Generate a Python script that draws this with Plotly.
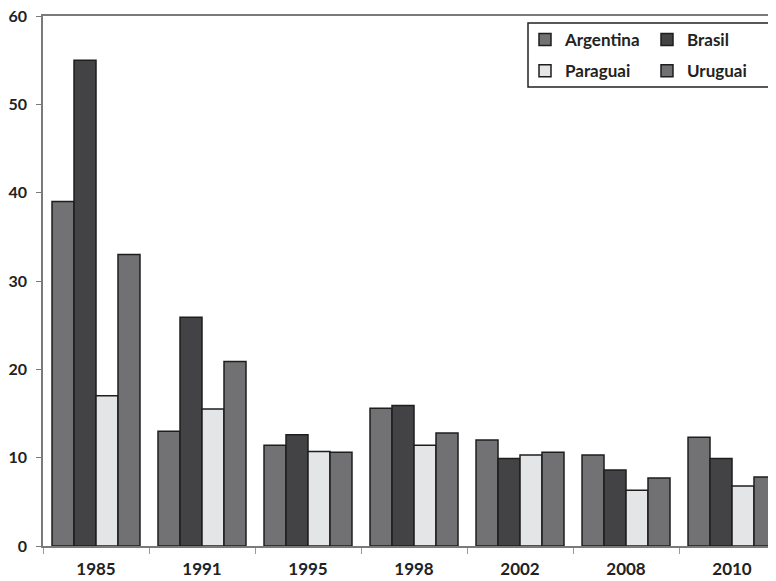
import plotly.graph_objects as go

years = ["1985", "1991", "1995", "1998", "2002", "2008", "2010"]
argentina = [39, 13, 11.4, 15.6, 12.0, 10.3, 12.3]
brasil = [55, 25.9, 12.6, 15.9, 9.9, 8.6, 9.9]
paraguai = [17, 15.5, 10.7, 11.4, 10.3, 6.3, 6.8]
uruguai = [33, 20.9, 10.6, 12.8, 10.6, 7.7, 7.8]

series = [
    ("Argentina", argentina, "#727275", "legend"),
    ("Brasil", brasil, "#434345", "legend2"),
    ("Paraguai", paraguai, "#e4e5e7", "legend"),
    ("Uruguai", uruguai, "#717174", "legend2"),
]

fig = go.Figure()
for name, vals, col, lg in series:
    fig.add_trace(go.Bar(
        x=years, y=vals, name=name, legend=lg, legendgroup=name,
        marker=dict(color=col, line=dict(color="#1e1e1e", width=1.5)),
    ))

font_fam = "Lato, 'Open Sans', sans-serif"
OFF = 8  # page offset of the figure inside the window
L, T, W, H = 43, 16, 733, 530  # plot area in window pixels


def px_x(p):
    return (p - L) / W


def px_y(p):
    return (T + H - p) / H


legend_font = dict(family=font_fam, size=17, color="#222222", weight="bold")
common_leg = dict(
    orientation="v", xanchor="left", yanchor="top",
    borderwidth=0, bgcolor="rgba(0,0,0,0)", font=legend_font,
    itemwidth=30, tracegroupgap=6,
)

fig.update_layout(
    width=776 - OFF, height=581 - OFF,
    margin=dict(l=L - OFF, r=0, t=T - OFF, b=35, autoexpand=False),
    paper_bgcolor="white", plot_bgcolor="white",
    barmode="group", bargap=0.17, bargroupgap=0,
    font=dict(family=font_fam, size=16, color="#222222"),
    legend=dict(x=px_x(525), y=px_y(22), **common_leg),
    legend2=dict(x=px_x(647), y=px_y(22), **common_leg),
    showlegend=True,
    shapes=[dict(
        type="rect", xref="paper", yref="paper",
        x0=px_x(528), x1=px_x(773), y0=px_y(87), y1=px_y(23),
        line=dict(color="#222222", width=1.5), fillcolor="rgba(0,0,0,0)",
        layer="above",
    )],
)
fig.update_xaxes(
    type="category", range=[-0.5, 6.415], automargin=False,
    showline=True, linecolor="#7a7a7a", linewidth=1.5, mirror=True,
    ticks="outside", tickson="boundaries", ticklen=6, tickcolor="#9a9a9a",
    ticklabelstandoff=7,
    tickfont=dict(family=font_fam, size=17, color="#222222", weight="bold"),
    showgrid=False,
)
fig.update_yaxes(
    range=[0, 60], dtick=10, automargin=False,
    showline=True, linecolor="#7a7a7a", linewidth=1.5,
    ticks="outside", ticklen=5, tickcolor="#7a7a7a",
    ticklabelstandoff=6, ticklabeloverflow="allow",
    tickfont=dict(family=font_fam, size=16, color="#222222", weight="bold"),
    showgrid=False, zeroline=False,
)

fig.write_html("out.html")
